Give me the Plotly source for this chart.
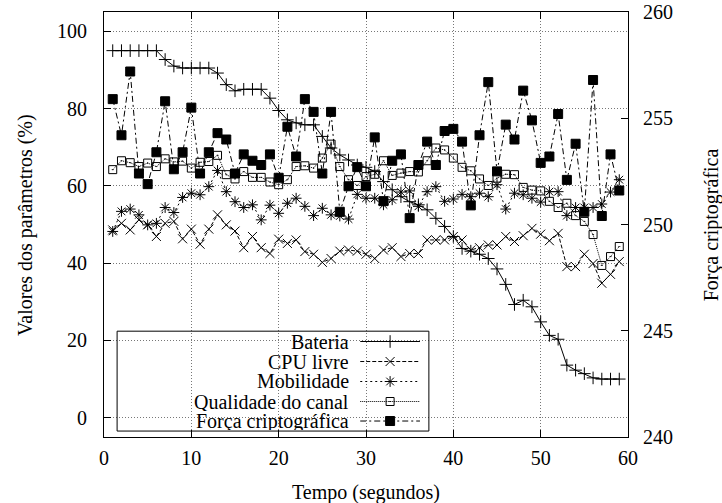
import plotly.graph_objects as go

# Sampling instants (seconds)
tempo = list(range(1, 60))

# Parameter values (%)
bateria = [95, 95, 95, 95, 95, 95, 92.7, 91, 90.5, 90.5, 90.5, 90.5, 89.2, 86.2, 84.6,
           85, 85, 85, 82.7, 79.5, 77.1, 76.3, 75.8, 75.8, 72.8, 69.8, 68, 66.7, 65.4,
           64.8, 63.7, 61.1, 59, 57.2, 55.9, 55.1, 53.8, 51.6, 49.5, 46.9, 43.8, 43.1,
           42.3, 41.2, 38.5, 34.5, 29.3, 30.4, 28.7, 24.8, 21.3, 20.3, 13.6, 12.3, 11.4,
           10.3, 10, 10, 10]
cpu_livre = [48.6, 50.3, 48.6, 51.2, 49.9, 46.9, 50.3, 50.8, 46.3, 48.8,
             44.9, 48.8, 52.5, 49.9, 48.3, 44, 46.9, 44, 42.5, 46.2,
             45.1, 46, 43, 42.3, 40.2, 41.2, 43.1, 43.4, 43.1, 42.3,
             41.2, 43.4, 44, 41.7, 42.5, 42.5, 46, 46, 46, 46.9,
             46, 43.4, 44, 44.7, 44.7, 46.9, 45.6, 47.1, 49, 47.5,
             45.8, 47.7, 39.1, 39.1, 42.3, 39.9, 34.8, 37.1, 40.4]
mobilidade = [48.2, 53.4, 54, 52.5, 49.9, 50.3, 54.4, 53.1, 57, 58.1,
              57.7, 59.8, 64, 58.5, 55.9, 54.4, 55.1, 51.2, 55, 52.9,
              55.5, 56.8, 54.7, 52.3, 54.2, 52.5, 52.2, 51.4, 57.8, 56.8,
              56.8, 55.1, 56.4, 58.4, 58.7, 54.7, 58.5, 59.8, 56, 56.6,
              57.8, 57.2, 58.1, 57.2, 60.3, 54, 58.1, 57.7, 56.8, 55.8,
              58.5, 58.5, 52.3, 54.4, 54.4, 54.4, 55.3, 58.4, 61.6]
qualidade = [64.2, 66.5, 66, 65, 65.9, 65, 67, 66.2, 66.4, 64.6,
             66.1, 66.3, 67.9, 62.9, 61.8, 63.7, 62.2, 62.2, 61, 60.3,
             61.6, 65, 65.2, 64.6, 67.2, 70.8, 65, 61.6, 60.1, 62.4,
             63, 66.5, 62.7, 63.3, 63.7, 63.6, 66.5, 69.8, 69.3, 67.2,
             64.8, 63.9, 61.8, 60.1, 62, 63, 62.9, 59.6, 58.9, 58.7,
             56, 54.4, 55.5, 52.3, 50.8, 47.4, 39.4, 41.7, 44.3]

# Cryptographic strength (right axis)
forca = [255.9, 254.2, 257.2, 252.4, 251.9, 253.4, 255.8, 252.6, 253.4, 255.5,
         252.4, 253.4, 254.3, 254, 252.4, 253.3, 253, 252.8, 253.3, 252.2,
         254.6, 253.2, 255.9, 255.3, 252.4, 255.3, 250.6, 251.8, 252.7, 251.8,
         254.1, 251.1, 253, 253.3, 250.3, 252.8, 253.9, 252.8, 254.4, 254.5,
         253.9, 250.9, 254.2, 256.7, 252.5, 254.7, 254, 256.3, 254.9, 252.9,
         253.2, 255.2, 252.1, 253.8, 250.6, 256.8, 250.4, 253.3, 251.6]

x_ticks = [0, 10, 20, 30, 40, 50, 60]
y_ticks = [0, 20, 40, 60, 80, 100]
y2_ticks = [240, 245, 250, 255, 260]

FONT = "'Liberation Serif', Tinos, 'Times New Roman', Times, 'DejaVu Serif', serif"
INK = "black"

# name, values, axis, line dash, marker symbol, marker size
series = [
    ("Bateria", bateria, "y", "solid", "cross-thin-open", 9),
    ("CPU livre", cpu_livre, "y", "4px,2px", "x-thin-open", 9),
    ("Mobilidade", mobilidade, "y", "2px,3px", "asterisk-open", 9),
    ("Qualidade do canal", qualidade, "y", "1px,1px", "square-open-dot", 8),
    ("Força criptográfica", forca, "y2", "6px,3px,2px,3px", "square", 9),
]

fig = go.Figure()
for name, vals, ax, dash, sym, size in series:
    fig.add_trace(go.Scatter(
        x=tempo, y=vals, yaxis=ax, name=name, mode="lines+markers",
        line=dict(color=INK, width=1, dash=dash),
        marker=dict(symbol=sym, size=size, color=INK, line=dict(color=INK, width=1)),
        showlegend=False,
    ))

# Key box (gnuplot style: right-aligned text, sample to the right)
key_x0, key_x1 = 0.025, 0.62
key_y0, key_y1 = 0.014, 0.249
text_x = 0.47
samp_x0, samp_x1 = 0.489, 0.603
row_y = [0.2247, 0.1776, 0.1306, 0.0835, 0.0376]

fig.add_shape(type="rect", xref="paper", yref="paper", x0=key_x0, x1=key_x1,
              y0=key_y0, y1=key_y1, line=dict(color=INK, width=1),
              fillcolor="rgba(0,0,0,0)", layer="above")
for (name, vals, ax, dash, sym, size), ry in zip(series, row_y):
    fig.add_annotation(x=text_x, y=ry, xref="paper", yref="paper", text=name,
                       showarrow=False, xanchor="right", yanchor="middle",
                       height=18, valign="middle", borderpad=0,
                       font=dict(family=FONT, size=20, color=INK))
    fig.add_trace(go.Scatter(
        x=[samp_x0, samp_x1], y=[ry, ry], xaxis="x3", yaxis="y3", mode="lines",
        line=dict(color=INK, width=1, dash=dash), showlegend=False, hoverinfo="skip"))
    fig.add_trace(go.Scatter(
        x=[(samp_x0 + samp_x1) / 2], y=[ry], xaxis="x3", yaxis="y3", mode="markers",
        marker=dict(symbol=sym, size=size, color=INK, line=dict(color=INK, width=1)),
        showlegend=False, hoverinfo="skip"))

axis_font = dict(family=FONT, size=20, color=INK)
grid_common = dict(gridcolor="#777", gridwidth=1, griddash="1px,2px")

fig.update_layout(
    width=722, height=503,
    margin=dict(l=104, r=94, t=12, b=66),
    paper_bgcolor="white", plot_bgcolor="white",
    font=axis_font,
    showlegend=False,
    xaxis=dict(range=[0, 60], tickvals=x_ticks, ticks="inside", ticklen=7,
               tickcolor=INK, showline=True, linecolor=INK, linewidth=1,
               mirror="ticks", showgrid=True, zeroline=False, automargin=False,
               tickfont=axis_font, ticklabelstandoff=3, **grid_common),
    yaxis=dict(range=[-5, 105], tickvals=y_ticks, ticks="inside", ticklen=7,
               tickcolor=INK, showline=True, linecolor=INK, linewidth=1,
               showgrid=True, zeroline=False, tickfont=axis_font, automargin=False,
               ticklabelstandoff=12, **grid_common),
    yaxis2=dict(range=[240, 260], tickvals=y2_ticks, ticks="inside", ticklen=7,
                tickcolor=INK, showline=True, linecolor=INK, linewidth=1,
                overlaying="y", side="right", showgrid=False, zeroline=False,
                automargin=False, tickfont=axis_font, ticklabelstandoff=10),
    xaxis3=dict(range=[0, 1], overlaying="x", visible=False, automargin=False),
    yaxis3=dict(range=[0, 1], overlaying="y", visible=False, automargin=False),
)

fig.add_annotation(x=0.5, y=-0.13, xref="paper", yref="paper", text="Tempo (segundos)",
                   showarrow=False, yanchor="middle", font=axis_font)
fig.add_annotation(x=-0.15, y=0.5, xref="paper", yref="paper",
                   text="Valores dos parâmetros (%)", textangle=-90,
                   showarrow=False, xanchor="center", font=axis_font)
fig.add_annotation(x=1.16, y=0.5, xref="paper", yref="paper",
                   text="Força criptográfica", textangle=-90,
                   showarrow=False, xanchor="center", font=axis_font)

fig.write_html("out.html")
